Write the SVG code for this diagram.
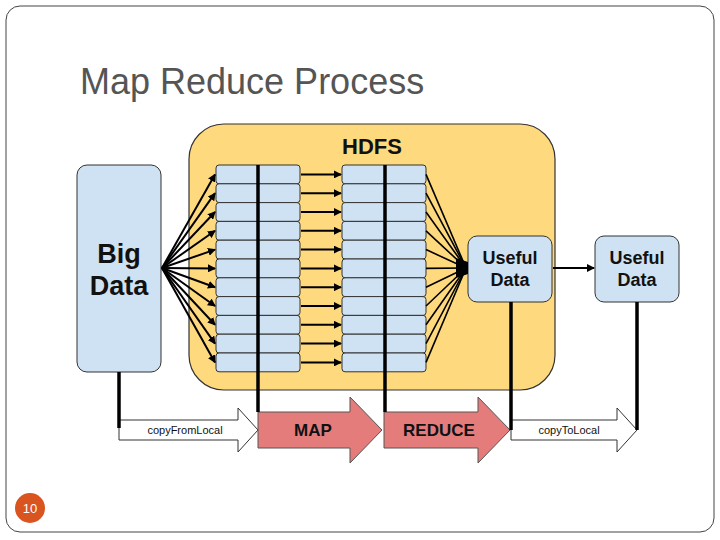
<svg xmlns="http://www.w3.org/2000/svg" width="720" height="540" viewBox="0 0 720 540">
<defs>
<style>
.cell{fill:#cfe2f3;stroke:#333;stroke-width:1}
.ln{stroke:#000;stroke-width:2;fill:none}
.thick{stroke:#000;stroke-width:3.5;fill:none}
.big{font-family:"Liberation Sans",Arial,sans-serif;font-weight:bold;fill:#111}
.small{font-family:"Liberation Sans",Arial,sans-serif;font-size:11px;fill:#111}
</style>
<marker id="ah" markerWidth="8" markerHeight="8" refX="7" refY="4" orient="auto" markerUnits="userSpaceOnUse" viewBox="0 0 8 8"><path d="M0,0 L8,4 L0,8 z" fill="#000"/></marker>
</defs>
<rect x="6" y="6" width="708" height="526" rx="14" fill="#fff" stroke="#444" stroke-width="1"/>
<text x="80" y="94" font-family="'Liberation Sans',Arial,sans-serif" font-size="36" fill="#555">Map Reduce Process</text>
<g id="page"><circle cx="30" cy="508" r="15" fill="#d9541e"/><text x="30" y="513" text-anchor="middle" font-family="'Liberation Sans',Arial,sans-serif" font-size="13" fill="#fff">10</text></g>
<g id="hdfs"><rect x="189" y="124" width="366" height="266" rx="35" fill="#ffd97d" stroke="#333" stroke-width="1.2"/><text x="372" y="154" text-anchor="middle" class="big" font-size="22">HDFS</text></g>
<g id="bigdata"><rect x="77" y="165" width="84" height="207" rx="10" class="cell"/><text x="119" y="263" text-anchor="middle" class="big" font-size="27">Big</text><text x="119" y="295" text-anchor="middle" class="big" font-size="27">Data</text></g>
<g id="col1">
<rect x="216" y="165.0" width="84" height="18.8" rx="3" class="cell"/><rect x="216" y="183.8" width="84" height="18.8" rx="3" class="cell"/><rect x="216" y="202.6" width="84" height="18.8" rx="3" class="cell"/><rect x="216" y="221.4" width="84" height="18.8" rx="3" class="cell"/><rect x="216" y="240.2" width="84" height="18.8" rx="3" class="cell"/><rect x="216" y="259.0" width="84" height="18.8" rx="3" class="cell"/><rect x="216" y="277.8" width="84" height="18.8" rx="3" class="cell"/><rect x="216" y="296.6" width="84" height="18.8" rx="3" class="cell"/><rect x="216" y="315.4" width="84" height="18.8" rx="3" class="cell"/><rect x="216" y="334.2" width="84" height="18.8" rx="3" class="cell"/><rect x="216" y="353.0" width="84" height="18.8" rx="3" class="cell"/>
</g>
<g id="col2">
<rect x="342" y="165.0" width="84" height="18.8" rx="3" class="cell"/><rect x="342" y="183.8" width="84" height="18.8" rx="3" class="cell"/><rect x="342" y="202.6" width="84" height="18.8" rx="3" class="cell"/><rect x="342" y="221.4" width="84" height="18.8" rx="3" class="cell"/><rect x="342" y="240.2" width="84" height="18.8" rx="3" class="cell"/><rect x="342" y="259.0" width="84" height="18.8" rx="3" class="cell"/><rect x="342" y="277.8" width="84" height="18.8" rx="3" class="cell"/><rect x="342" y="296.6" width="84" height="18.8" rx="3" class="cell"/><rect x="342" y="315.4" width="84" height="18.8" rx="3" class="cell"/><rect x="342" y="334.2" width="84" height="18.8" rx="3" class="cell"/><rect x="342" y="353.0" width="84" height="18.8" rx="3" class="cell"/>
</g>
<g id="useful1"><rect x="468" y="236" width="84" height="66" rx="9" class="cell"/><text x="510" y="264" text-anchor="middle" class="big" font-size="18">Useful</text><text x="510" y="286" text-anchor="middle" class="big" font-size="18">Data</text></g>
<g id="useful2"><rect x="595" y="236" width="84" height="66" rx="9" class="cell"/><text x="637" y="264" text-anchor="middle" class="big" font-size="18">Useful</text><text x="637" y="286" text-anchor="middle" class="big" font-size="18">Data</text></g>
<g id="copyFromLocal"><path d="M119,420 H238 V408 L258,430 L238,452 V440 H119 Z" fill="#fff" stroke="#333"/><text x="185" y="434" text-anchor="middle" class="small">copyFromLocal</text></g>
<g id="map"><path d="M258,412 H350 V397 L382,430 L350,463 V448 H258 Z" fill="#e47c7c" stroke="#555"/><text x="313" y="436" text-anchor="middle" class="big" font-size="17">MAP</text></g>
<g id="reduce"><path d="M384,412 H478 V397 L510,430 L478,463 V448 H384 Z" fill="#e47c7c" stroke="#555"/><text x="439" y="436" text-anchor="middle" class="big" font-size="17">REDUCE</text></g>
<g id="copyToLocal"><path d="M511,420 H617 V408 L637,430 L617,452 V440 H511 Z" fill="#fff" stroke="#333"/><text x="569" y="434" text-anchor="middle" class="small">copyToLocal</text></g>
<g id="connectors">
<g class="ln" marker-end="url(#ah)">
<line x1="162" y1="268" x2="215" y2="174.4"/><line x1="162" y1="268" x2="215" y2="193.2"/><line x1="162" y1="268" x2="215" y2="212"/><line x1="162" y1="268" x2="215" y2="230.8"/><line x1="162" y1="268" x2="215" y2="249.6"/><line x1="162" y1="268" x2="215" y2="268.4"/><line x1="162" y1="268" x2="215" y2="287.2"/><line x1="162" y1="268" x2="215" y2="306"/><line x1="162" y1="268" x2="215" y2="324.8"/><line x1="162" y1="268" x2="215" y2="343.6"/><line x1="162" y1="268" x2="215" y2="362.4"/>
<line x1="301" y1="174.4" x2="341" y2="174.4"/><line x1="301" y1="193.2" x2="341" y2="193.2"/><line x1="301" y1="212" x2="341" y2="212"/><line x1="301" y1="230.8" x2="341" y2="230.8"/><line x1="301" y1="249.6" x2="341" y2="249.6"/><line x1="301" y1="268.4" x2="341" y2="268.4"/><line x1="301" y1="287.2" x2="341" y2="287.2"/><line x1="301" y1="306" x2="341" y2="306"/><line x1="301" y1="324.8" x2="341" y2="324.8"/><line x1="301" y1="343.6" x2="341" y2="343.6"/><line x1="301" y1="362.4" x2="341" y2="362.4"/>
<line x1="553" y1="268" x2="594" y2="268"/>
</g>
<g stroke="#000" stroke-width="1.6">
<line x1="426" y1="174.4" x2="466" y2="268"/><line x1="426" y1="193.2" x2="466" y2="268"/><line x1="426" y1="212" x2="466" y2="268"/><line x1="426" y1="230.8" x2="466" y2="268"/><line x1="426" y1="249.6" x2="466" y2="268"/><line x1="426" y1="268.4" x2="466" y2="268"/><line x1="426" y1="287.2" x2="466" y2="268"/><line x1="426" y1="306" x2="466" y2="268"/><line x1="426" y1="324.8" x2="466" y2="268"/><line x1="426" y1="343.6" x2="466" y2="268"/><line x1="426" y1="362.4" x2="466" y2="268"/>
</g>
<path d="M456,258 L468,262 V274 L456,278 Z" fill="#000"/>
<line x1="258" y1="165" x2="258" y2="412" class="thick"/>
<line x1="385" y1="165" x2="385" y2="412" class="thick"/>
<line x1="119" y1="372" x2="119" y2="428" class="thick"/>
<line x1="511" y1="302" x2="511" y2="430" class="thick"/>
<line x1="637" y1="302" x2="637" y2="430" class="thick"/>
</g>
</svg>
